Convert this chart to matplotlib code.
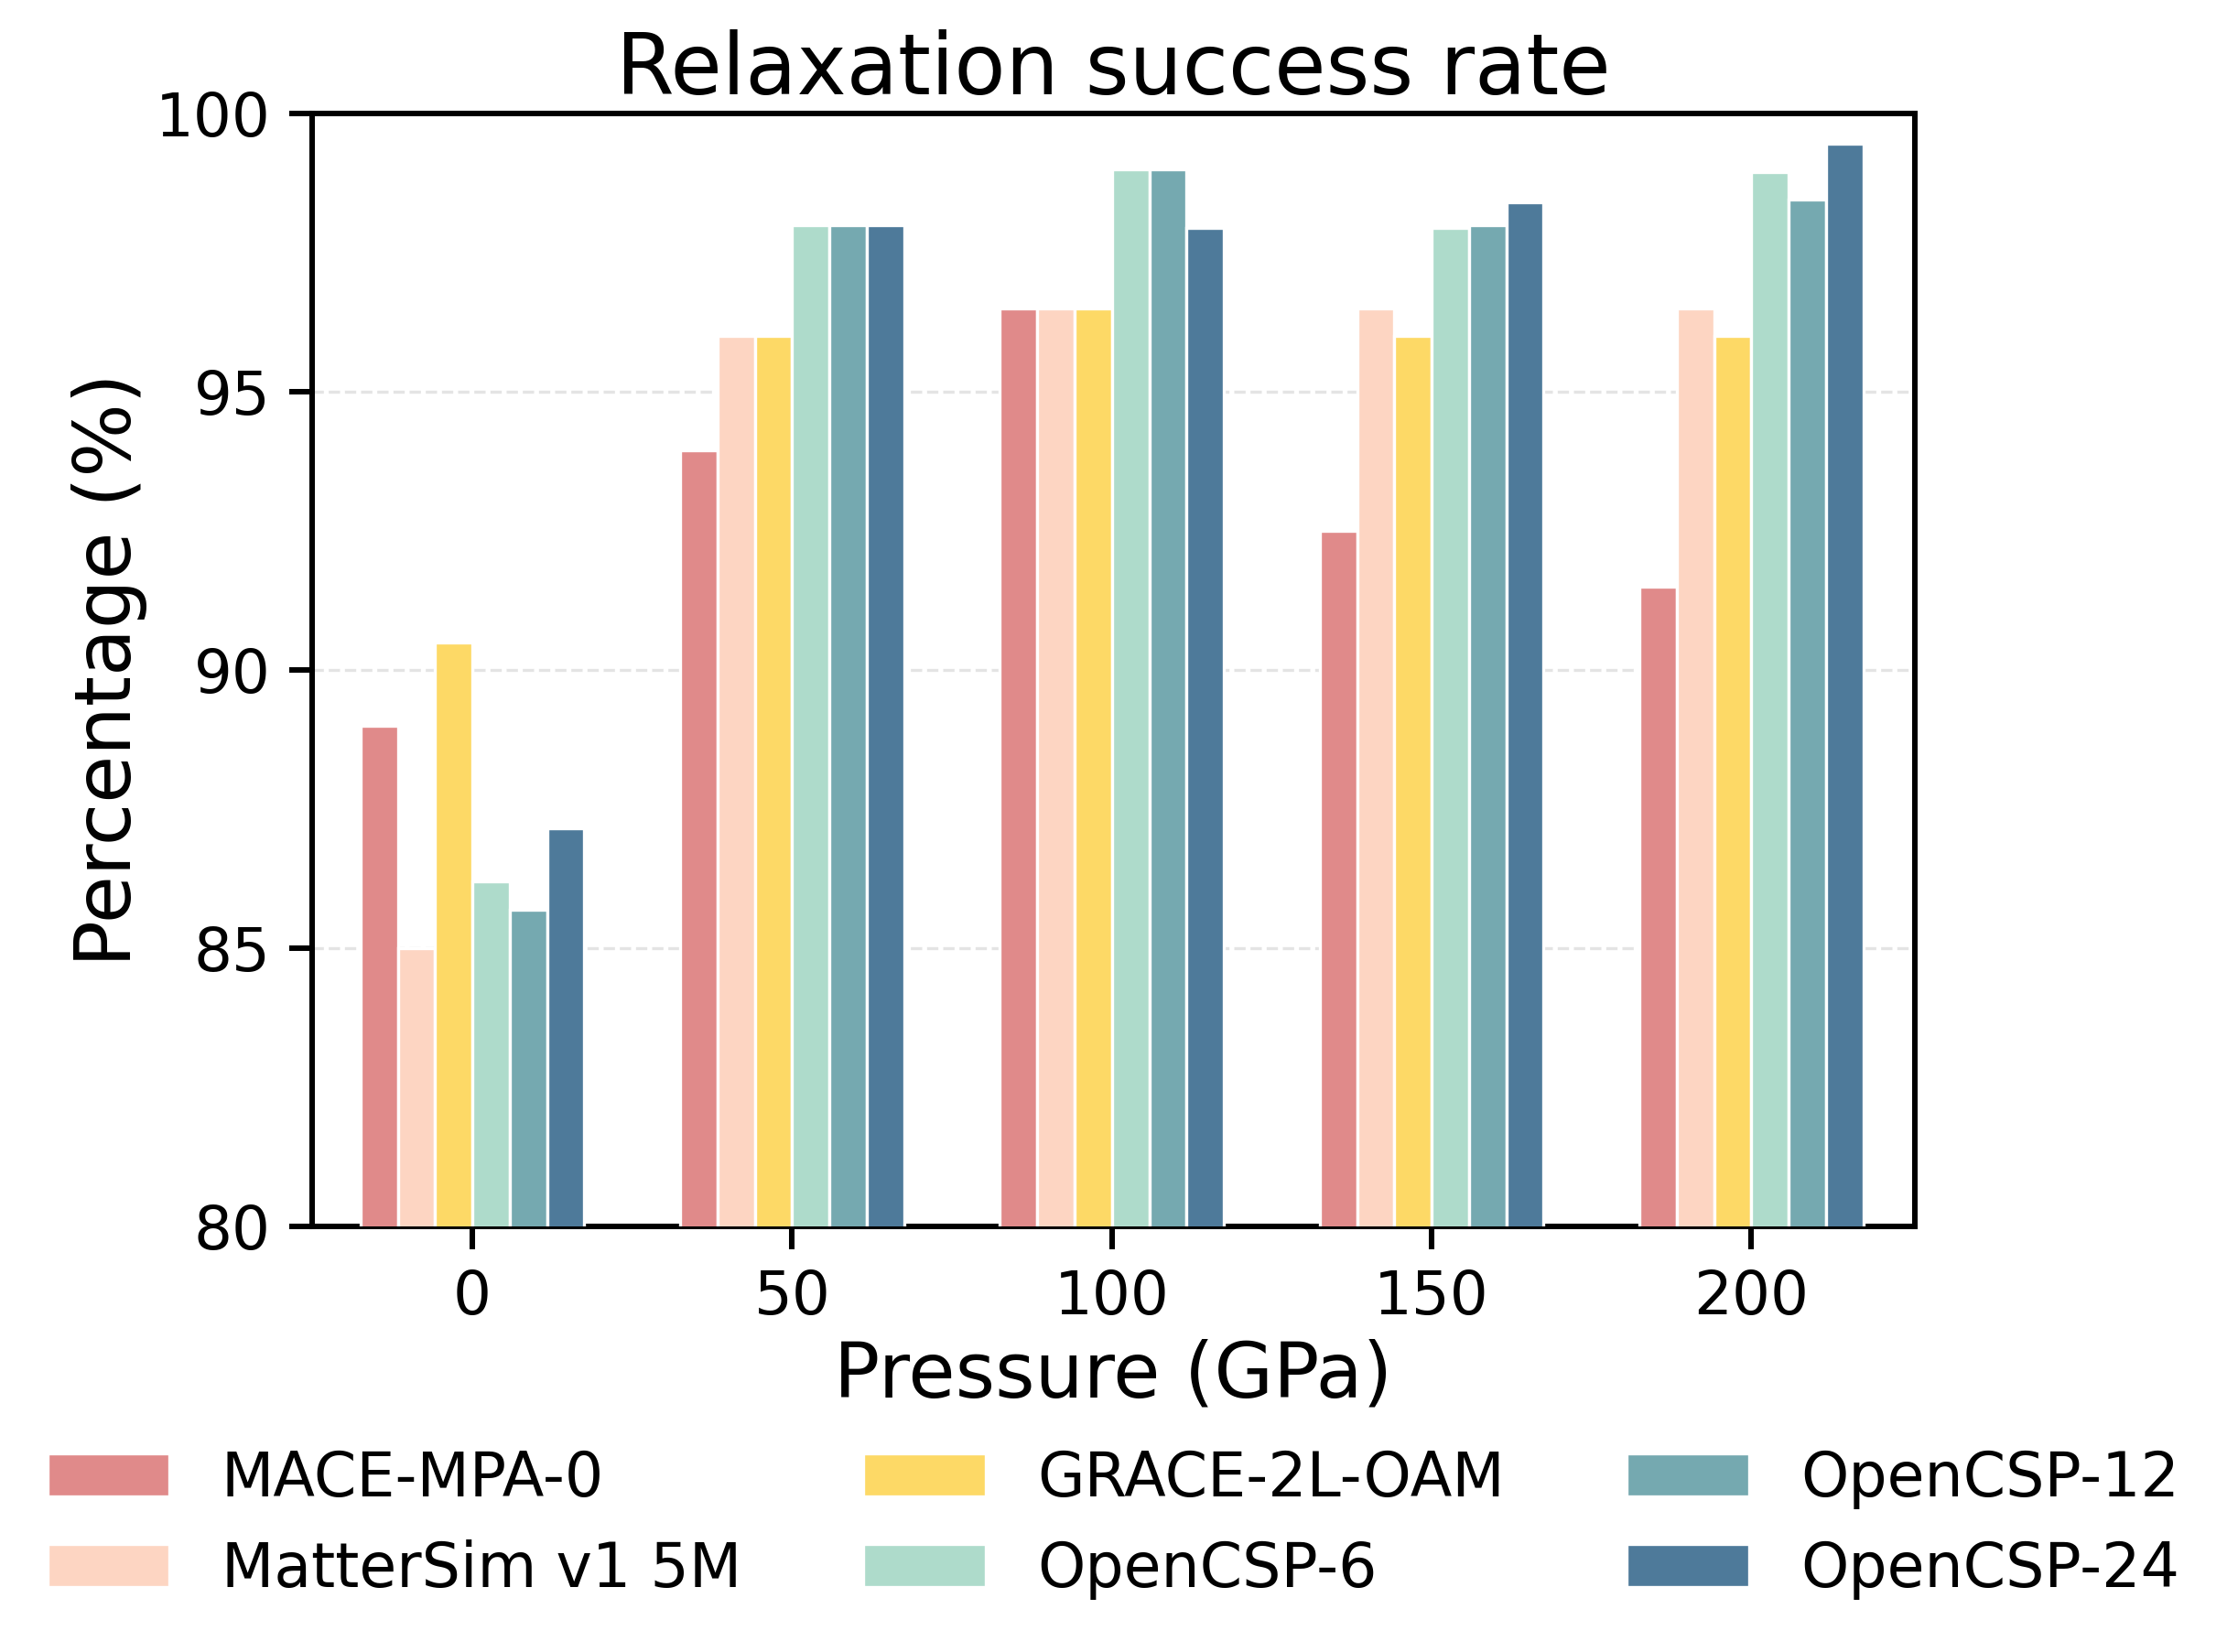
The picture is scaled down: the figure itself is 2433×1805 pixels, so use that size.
import matplotlib
matplotlib.use("Agg")
import matplotlib.pyplot as plt
import numpy as np

pressures = ["0", "50", "100", "150", "200"]
models = ["MACE-MPA-0", "MatterSim v1 5M", "GRACE-2L-OAM", "OpenCSP-6", "OpenCSP-12", "OpenCSP-24"]
mace = [89.0, 93.95, 96.5, 92.5, 91.5]
mattersim = [85.0, 96.0, 96.5, 96.5, 96.5]
grace = [90.5, 96.0, 96.5, 96.0, 96.0]
ocsp6 = [86.2, 98.0, 99.0, 97.95, 98.95]
ocsp12 = [85.7, 98.0, 99.0, 98.0, 98.45]
ocsp24 = [87.15, 98.0, 97.95, 98.4, 99.45]
series = [mace, mattersim, grace, ocsp6, ocsp12, ocsp24]
colors = ["#E08A8A", "#FDD5C2", "#FDD966", "#AEDBCB", "#75A9B0", "#4E7A9A"]

plt.rcParams['font.family'] = ['DejaVu Sans']
fig = plt.figure(figsize=(2433/300, 1805/300), dpi=300)
ax = fig.add_axes([0.1403, 0.2575, 0.8597-0.1403, 0.9313-0.2575])

x = np.arange(len(pressures))
w = 0.7 / len(models)
for i, (vals, c, m) in enumerate(zip(series, colors, models)):
    ax.bar(x + (i - 2.5) * w, vals, width=w, color=c, edgecolor='white', linewidth=0.8, label=m, zorder=3)

ax.set_ylim(80, 100)
ax.set_xlim(-0.5, 4.51)
ax.set_yticks([80, 85, 90, 95, 100])
ax.set_xticks(x)
ax.set_xticklabels(pressures)
ax.grid(axis='y', linestyle='--', color='#d9d9d9', alpha=0.7, linewidth=0.8, zorder=0)
for s in ax.spines.values():
    s.set_linewidth(1.45)
    s.set_color('black')
ax.tick_params(axis='both', labelsize=15.8, width=1.45, length=6, pad=5)
ax.set_title("Relaxation success rate", fontsize=22, pad=5)
ax.set_xlabel("Pressure (GPa)", fontsize=20, labelpad=3)
ax.set_ylabel("Percentage (%)", fontsize=20.3, labelpad=2)

fig.legend(loc='upper center', bbox_to_anchor=(0.5, 0.138), ncol=3, frameon=False,
           fontsize=16, handlelength=2.0, handleheight=0.7, handletextpad=0.85,
           columnspacing=2.0, labelspacing=0.5, borderaxespad=0)

fig.savefig("out.png", dpi=300)
